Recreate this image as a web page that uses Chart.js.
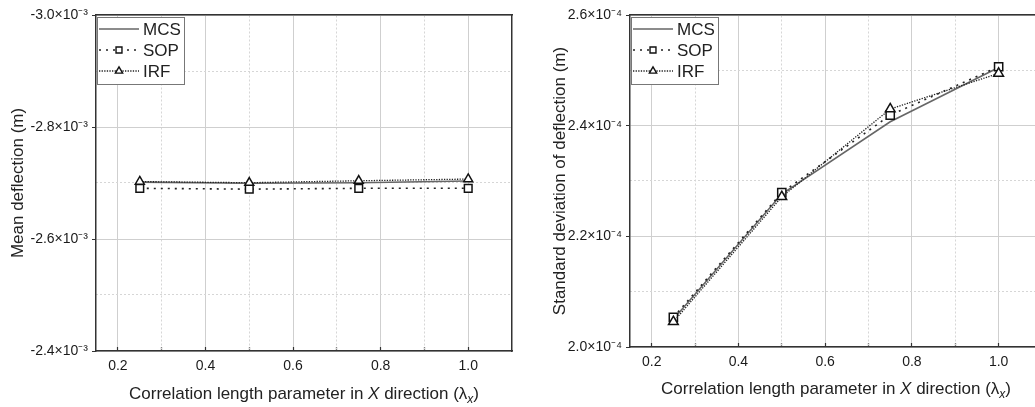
<!DOCTYPE html>
<html>
<head>
<meta charset="utf-8">
<script src="https://cdn.jsdelivr.net/npm/chart.js@4.4.1/dist/chart.umd.min.js"></script>
<style>
  body { margin: 0; width: 1035px; height: 407px; overflow: hidden; background: #fff; font-family: "Liberation Sans", Arial, sans-serif; }
  .panel { position: absolute; top: 0; height: 407px; }
  #left_panel { left: 0; width: 520px; }
  #right_panel { left: 520px; width: 530px; }
  .xtitle { position: absolute; font-size: 17px; line-height: 20px; color: #222; white-space: nowrap; transform: translateX(-50%); }
  .xtitle sub { font-size: 12px; vertical-align: -4px; line-height: 0; }
</style>
</head>
<body>
<div class="panel" id="left_panel">
  <canvas id="mean_chart" width="520" height="407"></canvas>
  <div class="xtitle" style="left:304px; top:384px;">Correlation length parameter in <i>X</i> direction (λ<sub><i>x</i></sub>)</div>
</div>
<div class="panel" id="right_panel">
  <canvas id="std_chart" width="530" height="407"></canvas>
  <div class="xtitle" style="left:316px; top:379px;">Correlation length parameter in <i>X</i> direction (λ<sub><i>x</i></sub>)</div>
</div>
<script>
// correlation length parameter in X direction
var lambdaX = [0.25, 0.5, 0.75, 1.0];
var seriesNames = ["MCS", "SOP", "IRF"];

// mean deflection (m)
var meanMCS = [-2.7015e-3, -2.6995e-3, -2.7005e-3, -2.7035e-3];
var meanSOP = [-2.6905e-3, -2.689e-3, -2.6905e-3, -2.6905e-3];
var meanIRF = [-2.7025e-3, -2.7005e-3, -2.704e-3, -2.707e-3];

// standard deviation of deflection (m)
var stdMCS = [2.05e-4, 2.2765e-4, 2.407e-4, 2.505e-4];
var stdSOP = [2.0535e-4, 2.279e-4, 2.419e-4, 2.5065e-4];
var stdIRF = [2.0455e-4, 2.2715e-4, 2.43e-4, 2.4945e-4];

// tick values
var xTicks = [0.2, 0.4, 0.6, 0.8, 1.0];
var xMinorTicks = [0.3, 0.5, 0.7, 0.9];
var meanTicks = [-3.0e-3, -2.8e-3, -2.6e-3, -2.4e-3];
var meanMinorTicks = [-2.9e-3, -2.7e-3, -2.5e-3];
var stdTicks = [2.0e-4, 2.2e-4, 2.4e-4, 2.6e-4];
var stdMinorTicks = [2.1e-4, 2.3e-4, 2.5e-4];

var FONT = "'Liberation Sans', Arial, sans-serif";

function points(values) {
  return lambdaX.map(function (x, i) {
    return { x: x, y: values[i] };
  });
}

function makeDatasets(mcs, sop, irf, big) {
  return [
    {
      label: seriesNames[0],
      data: points(mcs),
      borderColor: "#666",
      borderWidth: 1.6,
      pointRadius: 0,
      order: 3,
    },
    {
      label: seriesNames[1],
      data: points(sop),
      borderColor: "#222",
      borderWidth: 1.6,
      borderDash: [2, 5],
      pointStyle: "rect",
      pointRadius: big ? 5.8 : 5.4,
      pointBorderWidth: 1.5,
      pointBorderColor: "#111",
      pointBackgroundColor: "#fff",
      order: 2,
    },
    {
      label: seriesNames[2],
      data: points(irf),
      borderColor: "#222",
      borderWidth: 1.3,
      borderDash: [1.3, 1.3],
      pointStyle: "triangle",
      pointRadius: big ? 5.6 : 5.2,
      pointBorderWidth: 1.5,
      pointBorderColor: "#111",
      pointBackgroundColor: "#fff",
      order: 1,
    },
  ];
}

// legend drawn in a box at the top left of the plot
var boxLegend = {
  id: "boxLegend",
  afterDatasetsDraw: function (chart) {
    var ctx = chart.ctx;
    var area = chart.chartArea;
    var bx = area.left + 1;
    var by = area.top + 2;
    ctx.save();
    ctx.fillStyle = "#fff";
    ctx.fillRect(bx, by, 87, 67);
    ctx.strokeStyle = "#777";
    ctx.lineWidth = 1;
    ctx.strokeRect(Math.round(bx) + 0.5, Math.round(by) + 0.5, 87, 67);
    chart.data.datasets.forEach(function (ds, i) {
      var yy = by + 12 + i * 21;
      ctx.save();
      ctx.strokeStyle = ds.borderColor;
      ctx.lineWidth = ds.borderWidth;
      ctx.setLineDash(ds.borderDash || []);
      ctx.beginPath();
      ctx.moveTo(bx + 2, yy);
      ctx.lineTo(bx + 42, yy);
      ctx.stroke();
      ctx.restore();
      if (ds.pointRadius > 0) {
        ctx.fillStyle = "#fff";
        ctx.strokeStyle = "#111";
        ctx.lineWidth = 1.4;
        Chart.helpers.drawPoint(ctx, { pointStyle: ds.pointStyle, radius: 4.2, borderWidth: 1.4, rotation: 0 }, bx + 22, yy);
      }
      ctx.fillStyle = "#222";
      ctx.font = "17px " + FONT;
      ctx.textBaseline = "middle";
      ctx.textAlign = "left";
      ctx.fillText(ds.label, bx + 46, yy + 1);
    });
    ctx.restore();
  },
};

function setTicks(values) {
  return function (scale) {
    scale.ticks = values.map(function (v) {
      return { value: v };
    });
  };
}

function makeOptions(o) {
  var allX = xTicks.concat(xMinorTicks).sort(function (a, b) { return a - b; });
  return {
    responsive: false,
    animation: false,
    layout: { padding: { left: o.padLeft, right: 8, top: 15, bottom: 0 } },
    plugins: { legend: { display: false }, tooltip: { enabled: false } },
    scales: {
      x: {
        type: "linear",
        min: 0.15,
        max: 1.1,
        afterBuildTicks: setTicks(allX),
        afterFit: function (scale) { scale.height = o.xHeight; },
        ticks: {
          autoSkip: false,
          maxRotation: 0,
          padding: 11,
          color: "#1a1a1a",
          font: { family: FONT, size: 14 },
          callback: function (v) { return xTicks.indexOf(v) >= 0 ? v.toFixed(1) : ""; },
        },
        grid: {
          color: function (c) { return c.tick && xTicks.indexOf(c.tick.value) >= 0 ? "#cfcfcf" : "rgba(0,0,0,0)"; },
          tickColor: "#333",
          tickLength: -4,
          tickWidth: 1.2,
        },
        border: { color: "#333", width: 1.5 },
      },
      x2: {
        type: "linear",
        position: "top",
        min: 0.15,
        max: 1.1,
        afterBuildTicks: setTicks(xMinorTicks),
        afterFit: function (scale) { scale.height = 0; },
        ticks: { display: false },
        grid: { color: "#d6d6d6", drawTicks: false },
        border: { color: "#333", width: 1.5, dash: [2, 2] },
      },
      y: {
        type: "linear",
        min: o.yMin,
        max: o.yMax,
        reverse: o.reverse,
        afterBuildTicks: setTicks(o.yTicks),
        afterFit: function (scale) { scale.width = o.yWidth; },
        ticks: {
          padding: 4,
          color: "#1a1a1a",
          font: { family: FONT, size: 14 },
          callback: function (v) { return (v / o.unit).toFixed(1) + "×10" + o.sup; },
        },
        grid: { color: "#cfcfcf", tickColor: "#333", tickLength: 4 },
        border: { color: "#333", width: 1.5 },
        title: {
          display: true,
          text: o.yTitle,
          color: "#222",
          font: { family: FONT, size: 17 },
          padding: { top: 8, bottom: 0 },
        },
      },
      y2: {
        type: "linear",
        position: "right",
        min: o.yMin,
        max: o.yMax,
        reverse: o.reverse,
        afterBuildTicks: setTicks(o.yMinorTicks),
        afterFit: function (scale) { scale.width = 0; },
        ticks: { display: false },
        grid: { color: "#d6d6d6", drawTicks: false },
        border: { color: "#333", width: 1.5, dash: [2, 2] },
      },
    },
  };
}

var mean_chart = new Chart(document.getElementById("mean_chart"), {
  type: "line",
  data: { datasets: makeDatasets(meanMCS, meanSOP, meanIRF, false) },
  options: makeOptions({
    padLeft: 0,
    yWidth: 96,
    xHeight: 56,
    yMin: -3.0e-3,
    yMax: -2.4e-3,
    reverse: true,
    yTicks: meanTicks,
    yMinorTicks: meanMinorTicks,
    unit: 1e-3,
    sup: "⁻³",
    yTitle: "Mean deflection (m)",
  }),
  plugins: [boxLegend],
});

var std_chart = new Chart(document.getElementById("std_chart"), {
  type: "line",
  data: { datasets: makeDatasets(stdMCS, stdSOP, stdIRF, true) },
  options: makeOptions({
    padLeft: 22,
    yWidth: 88,
    xHeight: 60,
    yMin: 2.0e-4,
    yMax: 2.6e-4,
    reverse: false,
    yTicks: stdTicks,
    yMinorTicks: stdMinorTicks,
    unit: 1e-4,
    sup: "⁻⁴",
    yTitle: "Standard deviation of deflection (m)",
  }),
  plugins: [boxLegend],
});
</script>
</body>
</html>
